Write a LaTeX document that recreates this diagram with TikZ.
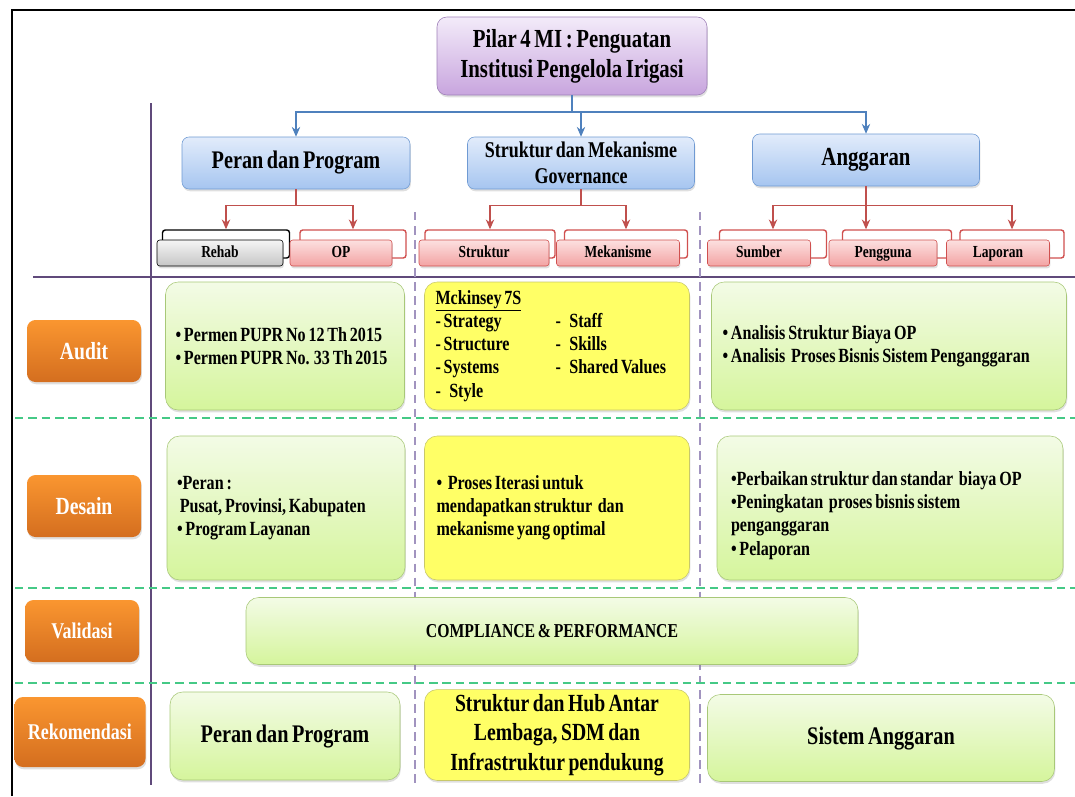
\documentclass[tikz,border=0pt]{standalone}
\usepackage{fontspec}
\setmainfont{Liberation Serif}[FakeStretch=0.8, WordSpace=0.7]
\usetikzlibrary{shadows,arrows.meta}

\definecolor{bluebd}{HTML}{6F9AD3}
\definecolor{bluetop}{HTML}{E2ECFB}
\definecolor{bluebot}{HTML}{A6C5F0}
\definecolor{redbd}{HTML}{D0504F}
\definecolor{redtop}{HTML}{FCE0E0}
\definecolor{redbot}{HTML}{F3A3A3}
\definecolor{greenbd}{HTML}{A8C878}
\definecolor{greentop}{HTML}{F3FBE6}
\definecolor{greenbot}{HTML}{D5F59C}
\definecolor{yellowbd}{HTML}{C8C86A}
\definecolor{yellowfl}{HTML}{FFFF66}
\definecolor{orangetop}{HTML}{FA9630}
\definecolor{orangebot}{HTML}{D46E1F}
\definecolor{purpbd}{HTML}{9E80B8}
\definecolor{purptop}{HTML}{F3EBF9}
\definecolor{purpbot}{HTML}{C8A5DE}
\definecolor{axisln}{HTML}{604A7B}
\definecolor{colln}{HTML}{A193BF}
\definecolor{rowln}{HTML}{45C986}
\definecolor{arrblue}{HTML}{4F81BD}
\definecolor{arrred}{HTML}{C0504D}

\begin{document}
\begin{tikzpicture}[x=0.025cm, y=-0.025cm, >={Stealth[length=7pt, width=6pt]},
	sz/.style 2 args={minimum width=#1*0.025cm, minimum height=#2*0.025cm},
	tw/.style={text width=#1*0.025cm},
	shade/.style={drop shadow={opacity=0.25, shadow xshift=0.6pt, shadow yshift=-1.6pt}},
	titlebox/.style={shade, draw=purpbd, top color=purptop, bottom color=purpbot, rounded corners=7pt,
		align=center, font=\fontsize{18.5}{21.5}\selectfont\bfseries},
	pillar/.style={shade, draw=bluebd, top color=bluetop, bottom color=bluebot, rounded corners=5pt,
		align=center, font=\fontsize{18}{18.5}\selectfont\bfseries},
	subbk/.style={draw=redbd, line width=1pt, fill=white, rounded corners=2pt},
	sub/.style={shade, draw=redbd, top color=redtop, bottom color=redbot, rounded corners=2pt,
		text height=0.9em, text depth=0.24em, font=\fontsize{12}{14}\selectfont\bfseries},
	phase/.style={shade, draw=none, top color=orangetop, bottom color=orangebot, rounded corners=6pt,
		text=white, align=center, font=\fontsize{17.5}{20}\selectfont\bfseries},
	gbox/.style={shade, draw=greenbd, top color=greentop, bottom color=greenbot, rounded corners=9pt,
		align=flush left, font=\fontsize{14.3}{16.5}\selectfont\bfseries},
	ybox/.style={shade, draw=yellowbd, fill=yellowfl, rounded corners=9pt,
		align=flush left, font=\fontsize{14.3}{16.5}\selectfont\bfseries},
	bline/.style={arrblue, line width=0.8pt},
	rline/.style={arrred, line width=0.8pt}]
	\useasboundingbox (0, 0) rectangle (1075, 796);

	% frame and grid lines
	\draw[line width=2pt] (12, 796) -- (12, 10) -- (1075, 10);
	\draw[axisln, line width=1.4pt] (151, 103) -- (151, 785);
	\draw[axisln, line width=1.4pt] (33, 277) -- (1075, 277);
	\draw[colln, line width=1pt, dash pattern=on 6pt off 4pt] (415, 212) -- (415, 785);
	\draw[colln, line width=1pt, dash pattern=on 6pt off 4pt] (700, 212) -- (700, 785);
	\foreach \y in {418, 588, 683}
		\draw[rowln, line width=1.2pt, dash pattern=on 6pt off 3.5pt] (15, \y) -- (1075, \y);

	% top of the tree
	\node[titlebox, sz={270}{78}] (title) at (572, 56) {Pilar 4 MI : Penguatan\\Institusi Pengelola Irigasi};
	\node[pillar, sz={228}{52}] (peran) at (296, 163) {Peran dan Program};
	\node[pillar, sz={227}{52}, font=\fontsize{16}{18.5}\selectfont\bfseries] (gov) at (581, 163) {Struktur dan Mekanisme\\Governance};
	\node[pillar, sz={227}{52}, font=\fontsize{18.5}{20}\selectfont\bfseries] (angg) at (866, 160) {Anggaran};

	\coordinate (tj) at (572, 112);
	\draw[bline] (title.south) -- (tj);
	\draw[bline, ->] (tj) -| (peran.north);
	\draw[bline, ->] (tj) -| (gov.north);
	\draw[bline, ->] (tj) -| (angg.north);

	% sub boxes
	\node[subbk, draw=black, sz={127}{28}] (rehab-bk) at (226, 244) {};
	\node[sub, draw=black, top color=gray!8, bottom color=gray!45, sz={126}{26}] (rehab) at (220, 253) {Rehab};
	\node[subbk, sz={106}{28}] (op-bk) at (353, 244) {};
	\node[sub, sz={102}{26}] (op) at (341, 253) {OP};
	\node[subbk, sz={130}{28}] (str-bk) at (490, 244) {};
	\node[sub, sz={130}{26}] (str) at (484, 253) {Struktur};
	\node[subbk, sz={123}{28}] (mek-bk) at (626, 244) {};
	\node[sub, sz={123}{26}] (mek) at (618, 253) {Mekanisme};
	\node[subbk, sz={107}{28}] (sum-bk) at (773, 244) {};
	\node[sub, sz={103}{26}] (sum) at (759, 253) {Sumber};
	\node[subbk, sz={109}{28}] (pen-bk) at (897, 244) {};
	\node[sub, sz={108}{26}] (pen) at (883, 253) {Pengguna};
	\node[subbk, sz={104}{28}] (lap-bk) at (1012, 244) {};
	\node[sub, sz={103}{26}] (lap) at (998, 253) {Laporan};

	\draw[rline, ->] (peran.south) -- ++(0, 16) -| (rehab-bk.north);
	\draw[rline, ->] (peran.south) -- ++(0, 16) -| (op-bk.north);
	\draw[rline, ->] (gov.south) -- ++(0, 16) -| (str-bk.north);
	\draw[rline, ->] (gov.south) -- ++(0, 16) -| (mek-bk.north);
	\draw[rline, ->] (angg.south) -- ++(0, 19) -| (sum-bk.north);
	\draw[rline, ->] (angg.south) -- (angg.south |- pen-bk.north);
	\draw[rline, ->] (angg.south) -- ++(0, 19) -| (lap-bk.north);

	% phases
	\node[phase, sz={114}{62}] (audit) at (84, 351) {Audit};
	\node[phase, sz={114}{62}] (desain) at (84, 506) {Desain};
	\node[phase, sz={114}{62}, font=\fontsize{16}{18}\selectfont\bfseries] (valid) at (82, 631) {Validasi};
	\node[phase, sz={131}{70}, font=\fontsize{16}{18}\selectfont\bfseries] (rekom) at (80, 732) {Rekomendasi};

	% audit row
	\node[gbox, sz={239}{128}, tw=219] (a1) at (285, 346)
		{• Permen PUPR No 12 Th 2015\\• Permen PUPR No. 33 Th 2015};
	\node[ybox, sz={265}{128}, tw=243] (a2) at (557, 346) {%
		\begin{tabular}{@{}p{3.0cm}@{}l@{}}
			\underline{Mckinsey 7S} & \\
			- Strategy & -\ \ \ Staff\\
			- Structure & -\ \ \ Skills\\
			- Systems & -\ \ \ Shared Values\\
			-\ \ \ Style &
		\end{tabular}};
	\node[gbox, sz={355}{128}, tw=333] (a3) at (889, 346)
		{• Analisis Struktur Biaya OP\\• Analisis\ \ Proses Bisnis Sistem Penganggaran\\[14pt]};

	% desain row
	\node[gbox, sz={238}{144}, tw=218] (d1) at (286, 508)
		{•Peran :\\\ Pusat, Provinsi, Kabupaten\\• Program Layanan};
	\node[ybox, sz={265}{144}, tw=241] (d2) at (557, 508)
		{•\ \ Proses Iterasi untuk\\mendapatkan struktur\ \ dan\\mekanisme yang optimal\\[14pt]};
	\node[gbox, sz={346}{144}, tw=318] (d3) at (890, 508)
		{\\[4pt]•Perbaikan struktur dan standar\ \ biaya OP\\•Peningkatan\ \ proses bisnis sistem\\penganggaran\\• Pelaporan};

	% validasi row
	\node[gbox, sz={612}{67}, align=center, font=\fontsize{14}{16.5}\selectfont\bfseries] (v) at (552, 631) {COMPLIANCE \& PERFORMANCE};

	% rekomendasi row
	\node[gbox, sz={230}{88}, align=center, font=\fontsize{18}{21}\selectfont\bfseries] (r1) at (285, 736) {Peran dan Program};
	\node[ybox, sz={265}{86}, align=center, font=\fontsize{17.5}{21}\selectfont\bfseries] (r2) at (557, 735)
		{Struktur dan Hub Antar\\Lembaga, SDM dan\\Infrastruktur pendukung};
	\node[gbox, sz={347}{87}, align=center, font=\fontsize{18}{21}\selectfont\bfseries] (r3) at (881, 738) {Sistem Anggaran};
\end{tikzpicture}
\end{document}
